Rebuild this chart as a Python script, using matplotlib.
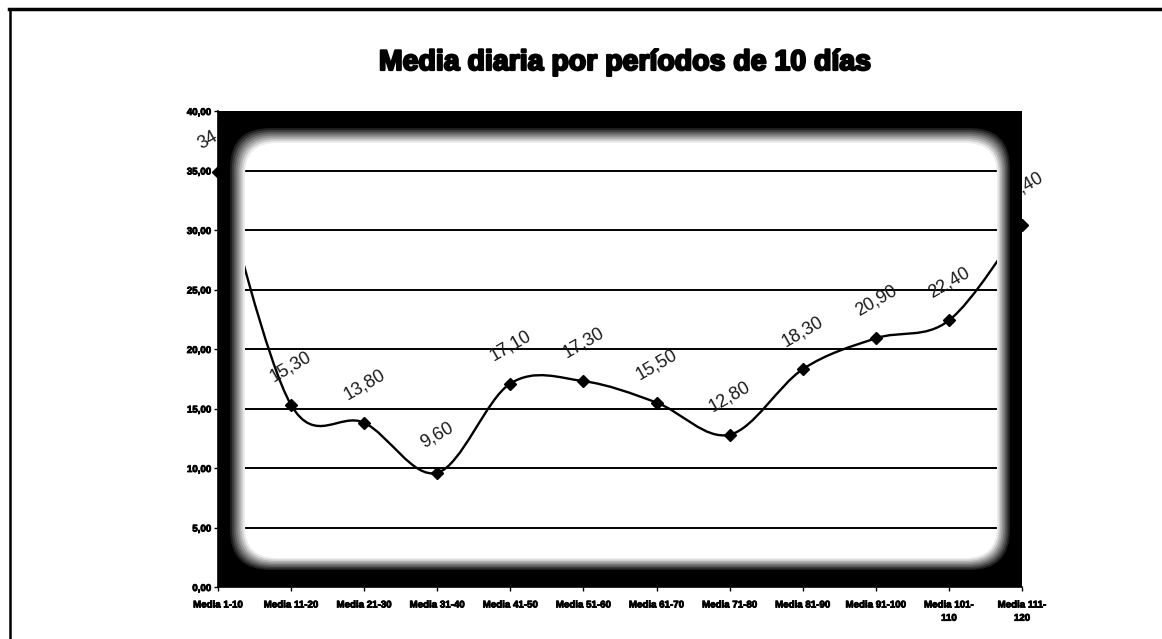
import numpy as np
import matplotlib
matplotlib.use('Agg')
import matplotlib.pyplot as plt
import matplotlib.patheffects as pe
from matplotlib import font_manager
from matplotlib.patches import FancyBboxPatch, PathPatch
from matplotlib.path import Path
from matplotlib.lines import Line2D
from matplotlib.transforms import IdentityTransform

# datos
categorias = ['Media 1-10', 'Media 11-20', 'Media 21-30', 'Media 31-40',
              'Media 41-50', 'Media 51-60', 'Media 61-70', 'Media 71-80',
              'Media 81-90', 'Media 91-100', 'Media 101-\n110', 'Media 111-\n120']
medias = [34.90, 15.30, 13.80, 9.60, 17.10, 17.30, 15.50, 12.80, 18.30, 20.90, 22.40, 30.40]
etiquetas = [f'{v:.2f}'.replace('.', ',') for v in medias]
marcas_y = [0, 5, 10, 15, 20, 25, 30, 35, 40]
titulo = 'Media diaria por períodos de 10 días'

nombres = {f.name for f in font_manager.fontManager.ttflist}
fuente_ejes = 'Liberation Sans Narrow' if 'Liberation Sans Narrow' in nombres else 'Liberation Sans'

W, H = 1162, 639
fig = plt.figure(figsize=(W / 100, H / 100), dpi=100)
ax = fig.add_axes([218 / W, 52 / H, (1022 - 218) / W, (587 - 111) / H])

ax.set_facecolor('white')
ax.set_xlim(0, len(medias) - 1)
ax.set_ylim(0, 40)

# borde oscuro con esquinas redondeadas, dibujado como anillos encima
x0, y0 = 218, 52
w, h = 1022 - 218, 587 - 111


def anillo(il, ir, it, ib, r):
    caja = FancyBboxPatch((x0 + il, y0 + ib), w - il - ir, h - it - ib,
                          boxstyle=f'round,pad=0,rounding_size={r}')
    poly = caja.get_path().to_polygons()[0]
    exterior = np.array([[x0, y0], [x0 + w, y0], [x0 + w, y0 + h], [x0, y0 + h], [x0, y0]])

    def area(p):
        return 0.5 * np.sum(p[:-1, 0] * p[1:, 1] - p[1:, 0] * p[:-1, 1])
    if area(poly) * area(exterior) > 0:
        poly = poly[::-1]
    verts = np.vstack([exterior, poly])
    codes = ([Path.MOVETO] + [Path.LINETO] * (len(exterior) - 1)
             + [Path.MOVETO] + [Path.LINETO] * (len(poly) - 1))
    return Path(verts, codes)


n = 9
grises = np.linspace(0.93, 0.0, n)
for k, g in enumerate(grises):
    f = k / (n - 1)
    il = 27 - 15 * f
    ir = 25 - 13 * f
    it = 32 - 15 * f
    ib = 29 - 12 * f
    r = 32 + 8 * f
    ax.add_patch(PathPatch(anillo(il, ir, it, ib, r), transform=IdentityTransform(),
                           facecolor=str(g), edgecolor='none', zorder=20 + k * 0.1))

# lineas de division
for v in marcas_y[1:-1]:
    ax.axhline(v, color='black', lw=1.4, zorder=1)

# linea suavizada tipo Excel
x = np.arange(len(medias), dtype=float)
y = np.array(medias)
pts = np.column_stack([x, y])
ext = np.vstack([pts[0], pts, pts[-1]])
verts = [pts[0]]
codes = [Path.MOVETO]
for i in range(len(pts) - 1):
    p0, p1, p2, p3 = ext[i], ext[i + 1], ext[i + 2], ext[i + 3]
    verts += [p1 + (p2 - p0) / 6, p2 - (p3 - p1) / 6, p2]
    codes += [Path.CURVE4] * 3
ax.add_patch(PathPatch(Path(verts, codes), fill=False, lw=1.7,
                       edgecolor='black', zorder=4))
ax.plot(x, y, linestyle='none', marker='D', markersize=6.5, color='black',
        zorder=30, clip_on=False)

for xi, yi, lbl in zip(x, y, etiquetas):
    ax.annotate(lbl, (xi, yi), xytext=(0, 38), textcoords='offset pixels',
                rotation=30, ha='center', va='center', fontsize=13,
                color='#1a1a1a', family='Liberation Sans', zorder=10,
                annotation_clip=False)

for s in ['top', 'right']:
    ax.spines[s].set_visible(False)
for s in ['left', 'bottom']:
    ax.spines[s].set_color('black')
    ax.spines[s].set_linewidth(1.2)
    ax.spines[s].set_zorder(40)

ax.set_yticks(marcas_y)
ax.set_yticklabels([f'{v:.2f}'.replace('.', ',') for v in marcas_y])
ax.set_xticks(x)
ax.set_xticklabels(categorias, linespacing=1.4)
ax.tick_params(axis='y', length=3, width=1, pad=2, labelsize=7)
ax.tick_params(axis='x', length=3, width=1, pad=6, labelsize=7)
for t in ax.get_xticklabels() + ax.get_yticklabels():
    t.set_family(fuente_ejes)
    t.set_fontweight('bold')
    t.set_path_effects([pe.withStroke(linewidth=0.6, foreground='black')])

# titulo y marco
fig.text(625 / W, 1 - 63 / H, titulo, ha='center', va='center', fontsize=20.5,
         fontweight='bold', family='Liberation Sans',
         path_effects=[pe.withStroke(linewidth=1.6, foreground='black')])
fig.add_artist(Line2D([9 / W, 1], [1 - 9 / H, 1 - 9 / H], transform=fig.transFigure,
                      color='black', lw=2.5))
fig.add_artist(Line2D([10 / W, 10 / W], [0, 1 - 9 / H], transform=fig.transFigure,
                      color='black', lw=1.8))

fig.savefig('out.png', dpi=100)
